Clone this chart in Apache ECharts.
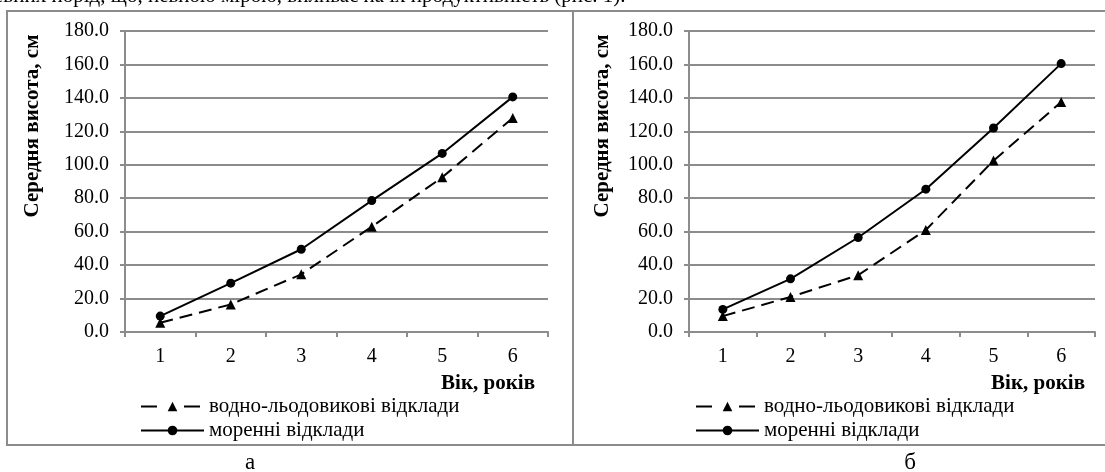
<!DOCTYPE html>
<html>
<head>
<meta charset="utf-8">
<script src="https://cdn.jsdelivr.net/npm/echarts@6/dist/echarts.min.js"></script>
<style>
html,body{margin:0;padding:0;background:#fff;}
#chart{width:1105px;height:472px;}
</style>
</head>
<body>
<div id="chart"></div>
<script>
// ---- data ----
const ages = ['1', '2', '3', '4', '5', '6'];
const seriesNames = ['водно-льодовикові відклади', 'моренні відклади'];
// panel "а"
const glacialA = [5.5, 16.5, 34.5, 63.0, 92.5, 128.0];
const moraineA = [9.5, 29.2, 49.5, 78.6, 106.8, 140.6];
// panel "б"
const glacialB = [9.5, 21.0, 34.0, 61.0, 102.5, 137.5];
const moraineB = [13.5, 31.8, 56.5, 85.4, 122.0, 160.5];
const yTitle = 'Середня висота, см';
const xTitle = 'Вік, років';
const panelLabels = ['а', 'б'];
const topText = 'евних порід, що, певною мірою, впливає на їх продуктивність (рис. 1).';

const SERIF = '"Liberation Serif", "Times New Roman", serif';
const GRID = '#8c8c8c';

const chart = echarts.init(document.getElementById('chart'), null, {renderer: 'canvas'});

function xAxis(gi) {
  return {
    type: 'category', gridIndex: gi, data: ages, boundaryGap: true,
    axisLine: {lineStyle: {color: GRID, width: 2}},
    axisTick: {show: true, length: 5, lineStyle: {color: GRID, width: 2}},
    axisLabel: {margin: 15, color: '#000', fontFamily: SERIF, fontSize: 20}
  };
}
function yAxis(gi) {
  return {
    type: 'value', gridIndex: gi, min: 0, max: 180, interval: 20,
    axisLine: {show: true, lineStyle: {color: GRID, width: 2}},
    axisTick: {show: true, length: 5, lineStyle: {color: GRID, width: 2}},
    splitLine: {lineStyle: {color: GRID, width: 2}},
    axisLabel: {margin: 16, color: '#000', fontFamily: SERIF, fontSize: 20,
      formatter: v => v.toFixed(1)}
  };
}
function glacial(gi, data) {
  return {
    name: seriesNames[0], type: 'line', xAxisIndex: gi, yAxisIndex: gi, data: data,
    symbol: 'triangle', symbolSize: 10, color: '#000',
    lineStyle: {color: '#000', width: 2, type: [13, 7]},
    itemStyle: {color: '#000'}
  };
}
function moraine(gi, data) {
  return {
    name: seriesNames[1], type: 'line', xAxisIndex: gi, yAxisIndex: gi, data: data,
    symbol: 'circle', symbolSize: 9, color: '#000',
    lineStyle: {color: '#000', width: 2, type: 'solid'},
    itemStyle: {color: '#000'}
  };
}
function legend(left) {
  return {
    left: left, top: 391, orient: 'vertical', itemWidth: 63, itemHeight: 12, itemGap: 3,
    selectedMode: false,
    data: [
      {name: seriesNames[0], lineStyle: {type: [16, 27], width: 2}},
      {name: seriesNames[1]}
    ],
    textStyle: {color: '#000', fontFamily: SERIF, fontSize: 21, lineHeight: 20, padding: [0, 0, 0, 0]}
  };
}

const option = {
  animation: false,
  backgroundColor: '#fff',
  grid: [
    {left: 125, right: 1105 - 548, top: 31, bottom: 472 - 332},
    {left: 689, right: 10, top: 31, bottom: 472 - 332}
  ],
  xAxis: [xAxis(0), xAxis(1)],
  yAxis: [yAxis(0), yAxis(1)],
  legend: [legend(135), legend(690)],
  series: [glacial(0, glacialA), moraine(0, moraineA), glacial(1, glacialB), moraine(1, moraineB)],
  graphic: [
    {type: 'rect', shape: {x: 7, y: 11, width: 566, height: 434}, style: {fill: 'none', stroke: GRID, lineWidth: 2}, silent: true},
    {type: 'rect', shape: {x: 573, y: 11, width: 545, height: 434}, style: {fill: 'none', stroke: GRID, lineWidth: 2}, silent: true},
    {type: 'text', x: -6, y: 7, style: {text: topText, fill: '#000', font: '21px ' + SERIF, textVerticalAlign: 'bottom'}},
    {type: 'text', x: 33, y: 126, rotation: Math.PI / 2, style: {text: yTitle, fill: '#000', font: 'bold 21px ' + SERIF, textAlign: 'center', textVerticalAlign: 'middle'}},
    {type: 'text', x: 603, y: 126, rotation: Math.PI / 2, style: {text: yTitle, fill: '#000', font: 'bold 21px ' + SERIF, textAlign: 'center', textVerticalAlign: 'middle'}},
    {type: 'text', x: 535, y: 384, style: {text: xTitle, fill: '#000', font: 'bold 21px ' + SERIF, textAlign: 'right', textVerticalAlign: 'middle'}},
    {type: 'text', x: 1085, y: 384, style: {text: xTitle, fill: '#000', font: 'bold 21px ' + SERIF, textAlign: 'right', textVerticalAlign: 'middle'}},
    {type: 'text', x: 250, y: 463, style: {text: panelLabels[0], fill: '#000', font: '23px ' + SERIF, textAlign: 'center', textVerticalAlign: 'middle'}},
    {type: 'text', x: 910, y: 463, style: {text: panelLabels[1], fill: '#000', font: '23px ' + SERIF, textAlign: 'center', textVerticalAlign: 'middle'}}
  ]
};
chart.setOption(option);
</script>
</body>
</html>
